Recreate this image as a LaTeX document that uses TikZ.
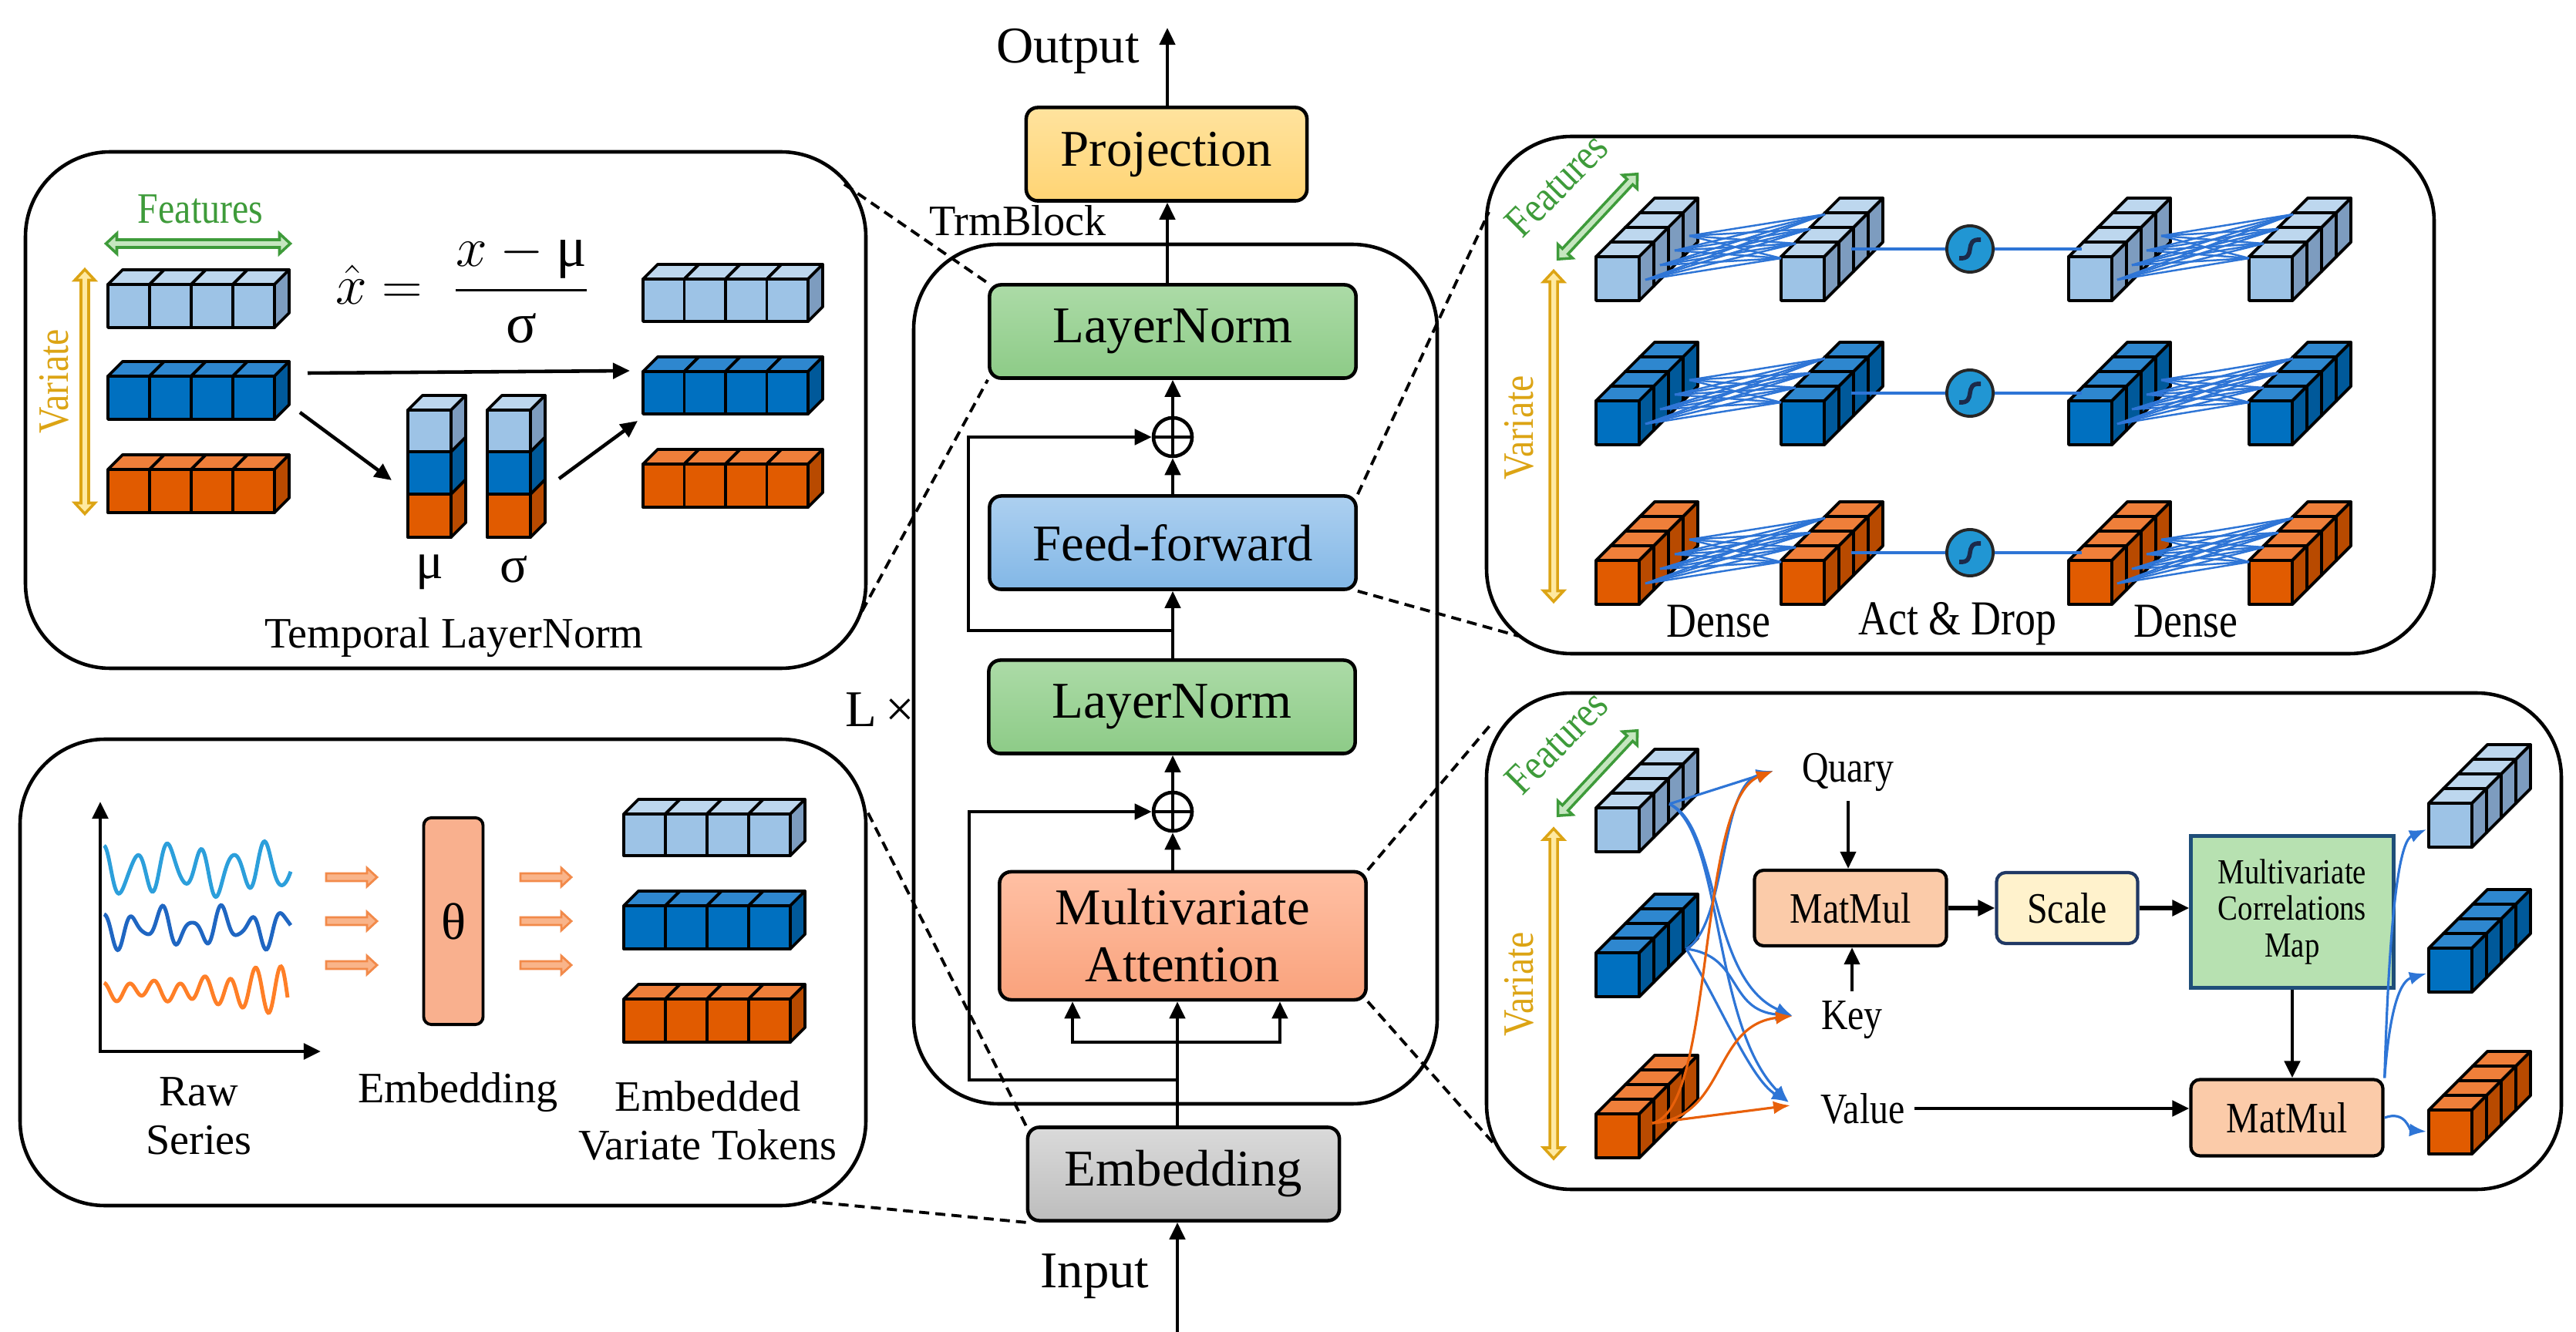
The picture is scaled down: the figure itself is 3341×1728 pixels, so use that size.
\documentclass[tikz,border=0pt]{standalone}
\usepackage{fontspec}
\setmainfont{Liberation Serif}
\newfontfamily\condfont[FakeStretch=0.85]{Liberation Serif}
\usepackage{amsmath}
\usetikzlibrary{arrows.meta,calc}

\definecolor{lbF}{HTML}{9DC3E6}
\definecolor{lbT}{HTML}{BDD7EE}
\definecolor{lbS}{HTML}{7D9CBF}
\definecolor{dbF}{HTML}{0070C0}
\definecolor{dbT}{HTML}{2E87CF}
\definecolor{dbS}{HTML}{00599A}
\definecolor{orF}{HTML}{E15B00}
\definecolor{orT}{HTML}{EF7F3A}
\definecolor{orS}{HTML}{B84A00}
\definecolor{lnTop}{HTML}{ACDBA7}
\definecolor{lnBot}{HTML}{8DCB87}
\definecolor{ffTop}{HTML}{ADD0F0}
\definecolor{ffBot}{HTML}{82B7E6}
\definecolor{projTop}{HTML}{FFE39E}
\definecolor{projBot}{HTML}{FFD474}
\definecolor{attnTop}{HTML}{FFC0A4}
\definecolor{attnBot}{HTML}{F9A27C}
\definecolor{embTop}{HTML}{DADADA}
\definecolor{embBot}{HTML}{BDBDBD}
\definecolor{featGreen}{HTML}{3E9B3A}
\definecolor{featFill}{HTML}{C5E6BF}
\definecolor{varGold}{HTML}{DCA414}
\definecolor{varFill}{HTML}{FFE9A0}
\definecolor{emArrow}{HTML}{F28A4A}
\definecolor{emArrowFill}{HTML}{F9B48A}
\definecolor{thetaFill}{HTML}{F9B08E}
\definecolor{waveA}{HTML}{2C9FDB}
\definecolor{waveB}{HTML}{1F66C2}
\definecolor{waveC}{HTML}{FF7F27}
\definecolor{denseBlue}{HTML}{2E75D6}
\definecolor{actBlue}{HTML}{2196D3}
\definecolor{sigNavy}{HTML}{1B2A4A}
\definecolor{curveOrange}{HTML}{E8600A}
\definecolor{mmFill}{HTML}{FBCBA9}
\definecolor{scaleFill}{HTML}{FFF2CC}
\definecolor{scaleEdge}{HTML}{203864}
\definecolor{mcmFill}{HTML}{B7E1B1}
\definecolor{mcmEdge}{HTML}{1F4E79}

\tikzset{cubeline/.style={draw=black, line width=1.1pt, line join=round}}

% one cube: front top-left x, y, width, height, colour set
\newcommand{\onecube}[5]{%
  \filldraw[cubeline, fill=#5T] (#1,#2) -- ++(19,-19) -- ++(#3,0) -- ++(-19,19) -- cycle;
  \filldraw[cubeline, fill=#5S] (#1+#3,#2) -- ++(19,-19) -- ++(0,#4) -- ++(-19,19) -- cycle;
  \filldraw[cubeline, fill=#5F] (#1,#2) rectangle ++(#3,#4);
}
% four cubes side by side
\newcommand{\tokrow}[5]{\foreach \i in {0,...,3}{\onecube{#1+\i*#3}{#2}{#3}{#4}{#5}}}
% four cubes one behind the other
\newcommand{\tokstack}[3]{\foreach \k in {3,2,1,0}{\onecube{#1+19*\k}{#2-19*\k}{56}{57}{#3}}}
% all-to-all links between two stacks
\newcommand{\denselinks}[3]{\foreach \p in {0,...,3}{\foreach \q in {0,...,3}{%
  \draw[denseline] (#1+7+19*\p,#3+30-19*\p) -- (#2+19*\q,#3+2-19*\q);}}}
% hollow double arrow: centre x, centre y, length, angle, colours
\newcommand{\hollowdbl}[6]{%
  \begin{scope}[shift={(#1,#2)}, rotate=#4]
    \filldraw[draw=#5, fill=#6, line width=1pt] (-#3/2,0) -- (-#3/2+14,-13) -- (-#3/2+14,-5)
      -- (#3/2-14,-5) -- (#3/2-14,-13) -- (#3/2,0) -- (#3/2-14,13) -- (#3/2-14,5)
      -- (-#3/2+14,5) -- (-#3/2+14,13) -- cycle;
  \end{scope}}
% hollow single arrow pointing right
\newcommand{\hollowarr}[3]{%
  \filldraw[draw=emArrow, fill=emArrowFill, line width=0.8pt] (#1-#3/2,#2-5) -- (#1+#3/2-13,#2-5)
    -- (#1+#3/2-13,#2-12) -- (#1+#3/2,#2) -- (#1+#3/2-13,#2+12) -- (#1+#3/2-13,#2+5)
    -- (#1-#3/2,#2+5) -- cycle;}

\begin{document}
\begin{tikzpicture}[x=0.01cm, y=-0.01cm,
    blockbox/.style={draw, line width=1.3pt, rounded corners=0.15cm, minimum width=4.75cm, minimum height=1.21cm, inner sep=0pt, align=center, font=\fontsize{19}{21}\selectfont},
    addop/.style={circle, draw, line width=1.3pt, minimum size=0.5cm, inner sep=0pt,
      path picture={\draw[line width=1.1pt] (path picture bounding box.north) -- (path picture bounding box.south) (path picture bounding box.west) -- (path picture bounding box.east);}},
    arr/.style={line width=1.3pt, -{Triangle[length=0.22cm,width=0.2cm]}},
    link/.style={line width=1.1pt, dash pattern=on 0.13cm off 0.08cm},
    panel/.style={line width=1.3pt, rounded corners=1.1cm},
    bigtxt/.style={font=\fontsize{19}{21}\selectfont},
    lbl/.style={font=\fontsize{16}{18}\selectfont, align=center},
    condlbl/.style={font={\condfont\fontsize{18}{20}\selectfont}, align=center},
    feattxt/.style={font={\condfont\fontsize{16}{18}\selectfont}, text=featGreen},
    vartxt/.style={font={\condfont\fontsize{16}{18}\selectfont}, text=varGold, rotate=90},
    smallbox/.style={draw, line width=1.2pt, rounded corners=0.12cm, inner sep=0pt, align=center, font={\condfont\fontsize{16}{18}\selectfont}},
    denseline/.style={draw=denseBlue, line width=0.7pt},
    actnode/.style={circle, draw=black!85, fill=actBlue, line width=1.1pt, minimum size=0.6cm, inner sep=0pt,
      path picture={\draw[line width=1.6pt, draw=sigNavy] ([xshift=-0.14cm,yshift=-0.12cm]path picture bounding box.center)
        .. controls ([xshift=0.1cm,yshift=-0.14cm]path picture bounding box.center) and ([xshift=-0.1cm,yshift=0.14cm]path picture bounding box.center)
        .. ([xshift=0.14cm,yshift=0.12cm]path picture bounding box.center);}},
    bluecurve/.style={draw=denseBlue, line width=0.9pt, -{Latex[length=0.22cm,width=0.17cm]}},
    orangecurve/.style={draw=curveOrange, line width=0.9pt, -{Latex[length=0.22cm,width=0.17cm]}},
    wave/.style={line width=1.4pt}
]
\fill[white] (0,0) rectangle (3341,1728);
\useasboundingbox (0,0) rectangle (3341,1728);

% ---------------- centre column ----------------
\draw[panel] (1185,317) rectangle (1864,1432);
\node[lbl] (trmlbl) at (1320,286) {TrmBlock};
\node[bigtxt] (lx) at (1141,921) {L\,×};

\node[blockbox, top color=projTop, bottom color=projBot, minimum width=3.64cm] (proj) at (1513,200) {Projection};
\node[bigtxt] (out) at (1385,67) {Output};
\node[blockbox, top color=lnTop, bottom color=lnBot] (ln2) at (1521,430) {LayerNorm};
\node[addop] (add2) at (1521,567) {};
\node[blockbox, top color=ffTop, bottom color=ffBot] (ff) at (1521,704) {Feed-forward};
\node[blockbox, top color=lnTop, bottom color=lnBot] (ln1) at (1520,917) {LayerNorm};
\node[addop] (add1) at (1521,1053) {};
\node[blockbox, top color=attnTop, bottom color=attnBot, minimum height=1.66cm] (attn) at (1534,1214) {Multivariate\\Attention};
\node[blockbox, top color=embTop, bottom color=embBot, minimum width=4.04cm] (emb) at (1535,1523) {Embedding};
\node[bigtxt] (inp) at (1420,1656) {Input};

\coordinate (outtop) at (1514,36);
\coordinate (sk2) at (1256,818);
\coordinate (sk1) at (1257,1401);
\coordinate (spine) at (1527,1401);
\coordinate (qbr) at (1391,1352);
\coordinate (vbr) at (1660,1352);
\coordinate (inbot) at (1527,1728);

\draw[arr] (proj.north -| outtop) -- (outtop);
\draw[arr] (ln2.north -| outtop) -- (proj.south -| outtop);
\draw[arr] (add2.north) -- (add2.north |- ln2.south);
\draw[arr] (ff.north -| add2) -- (add2.south);
\draw[arr] (ff.south |- sk2) -- (sk2) |- (add2.west);
\draw[arr] (ln1.north -| ff.south) -- (ff.south);
\draw[arr] (add1.north) -- (add1.north |- ln1.south);
\draw[arr] (attn.north -| add1) -- (add1.south);
\draw[arr] (spine) -- (sk1) |- (add1.west);
\draw[arr] (emb.north -| spine) -- (attn.south -| spine);
\draw[arr] (qbr -| spine) -- (qbr) -- (qbr |- attn.south);
\draw[arr] (qbr -| spine) -- (vbr) -- (vbr |- attn.south);
\draw[arr] (inbot) -- (emb.south -| inbot);

% zoom links
\coordinate (tlA) at (1095,239);
\coordinate (tlB) at (1118,793);
\coordinate (trA) at (1931,275);
\coordinate (trB) at (1969,825);
\coordinate (brA) at (1936,937);
\coordinate (brB) at (1936,1482);
\coordinate (blA) at (1123,1049);
\coordinate (blB) at (1053,1559);
\draw[link] (tlA) -- (ln2.north west);
\draw[link] (tlB) -- (ln2.south west);
\draw[link] (ff.north east) -- (trA);
\draw[link] (ff.south east) -- (trB);
\draw[link] (attn.north east) -- (brA);
\draw[link] (attn.south east) -- (brB);
\draw[link] (emb.north west) -- (blA);
\draw[link] (emb.south west) -- (blB);

% ---------------- temporal layernorm ----------------
\draw[panel] (33,197) rectangle (1123,867);
\node[feattxt] (tlfeat) at (260,271) {Features};
\hollowdbl{257}{316}{239}{0}{featGreen}{featFill}
\node[vartxt] (tlvar) at (70,495) {Variate};
\hollowdbl{110}{508}{317}{90}{varGold}{varFill}
\tokrow{140}{369}{54}{56}{lb}
\tokrow{140}{488}{54}{56}{db}
\tokrow{140}{609}{54}{56}{or}
\tokrow{834}{362}{53.5}{55}{lb}
\tokrow{834}{482}{53.5}{55}{db}
\tokrow{834}{602}{53.5}{56}{or}
\onecube{529}{641}{56}{56}{or}
\onecube{529}{586}{56}{55}{db}
\onecube{529}{532}{56}{54}{lb}
\onecube{632}{641}{56}{56}{or}
\onecube{632}{586}{56}{55}{db}
\onecube{632}{532}{56}{54}{lb}
\node[font=\fontsize{21}{23}\selectfont] (formula) at (600,374) {$\hat{x} = \ \dfrac{x-\text{μ}}{\text{σ}}$};
\node[bigtxt] (mu) at (557,742) {μ};
\node[bigtxt] (sigma) at (667,739) {σ};
\draw[arr] (399,484) -- (817,481);
\draw[arr] (389,535) -- (508,623);
\draw[arr] (725,621) -- (827,546);
\node[lbl] (tlname) at (589,827) {Temporal LayerNorm};

% ---------------- embedding ----------------
\draw[panel] (26,959) rectangle (1123,1564);
\draw[line width=1.4pt, {Triangle[length=0.22cm,width=0.2cm]}-{Triangle[length=0.22cm,width=0.2cm]}] (130,1040) -- (130,1364) -- (416,1364);
\draw[wave, draw=waveA] plot[domain=0:242, samples=180, smooth] ({135+\x},{1128-26*cos(8.6*\x)+7*sin(3.1*\x)-5*cos(14*\x)});
\draw[wave, draw=waveB] plot[domain=0:242, samples=180, smooth] ({135+\x},{1203-18*cos(9.3*\x+20)+7*sin(4*\x)-5*sin(15*\x)});
\draw[wave, draw=waveC] plot[domain=0:238, samples=200, smooth] ({135+\x},{1285-(10+28*(\x/238)^3)*cos(11*\x)+4*sin(5*\x)});
\hollowarr{456}{1138}{66}
\hollowarr{456}{1195}{66}
\hollowarr{456}{1252}{66}
\hollowarr{708}{1138}{66}
\hollowarr{708}{1195}{66}
\hollowarr{708}{1252}{66}
\node[draw, line width=1.1pt, fill=thetaFill, rounded corners=0.1cm, minimum width=0.77cm, minimum height=2.68cm, inner sep=0pt, font=\fontsize{19}{21}\selectfont] (theta) at (588,1195) {θ};
\tokrow{809}{1056}{54}{54}{lb}
\tokrow{809}{1175}{54}{56}{db}
\tokrow{809}{1296}{54}{56}{or}
\node[lbl] (raw) at (258,1448) {Raw\\Series};
\node[lbl] (embname) at (594,1417) {Embedding};
\node[lbl] (tokname) at (918,1454) {Embedded\\Variate Tokens};

% ---------------- feed-forward ----------------
\draw[panel] (1928,177) rectangle (3157,848);
\node[feattxt, rotate=45] (frfeat) at (2019,240) {Features};
\hollowdbl{2072}{281}{151}{47}{featGreen}{featFill}
\node[vartxt] (frvar) at (1970,555) {Variate};
\hollowdbl{2015}{566}{429}{90}{varGold}{varFill}
\tokstack{2070}{333}{lb}
\tokstack{2310}{333}{lb}
\tokstack{2683}{333}{lb}
\tokstack{2917}{333}{lb}
\tokstack{2070}{520}{db}
\tokstack{2310}{520}{db}
\tokstack{2683}{520}{db}
\tokstack{2917}{520}{db}
\tokstack{2070}{727}{or}
\tokstack{2310}{727}{or}
\tokstack{2683}{727}{or}
\tokstack{2917}{727}{or}
\denselinks{2127}{2310}{333}
\denselinks{2739}{2917}{333}
\denselinks{2127}{2310}{520}
\denselinks{2739}{2917}{520}
\denselinks{2127}{2310}{727}
\denselinks{2739}{2917}{727}
\node[actnode] (act1) at (2555,323) {};
\node[actnode] (act2) at (2555,510) {};
\node[actnode] (act3) at (2555,717) {};
\draw[denseline, line width=1pt] (2401,323) -- (act1.west);
\draw[denseline, line width=1pt] (act1.east) -- (2700,323);
\draw[denseline, line width=1pt] (2401,510) -- (act2.west);
\draw[denseline, line width=1pt] (act2.east) -- (2700,510);
\draw[denseline, line width=1pt] (2401,717) -- (act3.west);
\draw[denseline, line width=1pt] (act3.east) -- (2700,717);
\node[condlbl] (dense1) at (2229,806) {Dense};
\node[condlbl] (actdrop) at (2539,809) {Act \& Drop};
\node[condlbl] (dense2) at (2835,806) {Dense};

% ---------------- multivariate attention ----------------
\draw[panel] (1928,899) rectangle (3322,1543);
\node[feattxt, rotate=45] (brfeat) at (2019,963) {Features};
\hollowdbl{2072}{1003}{151}{47}{featGreen}{featFill}
\node[vartxt] (brvar) at (1970,1277) {Variate};
\hollowdbl{2015}{1289}{428}{90}{varGold}{varFill}
\tokstack{2070}{1048}{lb}
\tokstack{2070}{1236}{db}
\tokstack{2070}{1445}{or}
\tokstack{3150}{1042}{lb}
\tokstack{3150}{1230}{db}
\tokstack{3150}{1440}{or}

\node[condlbl, font={\condfont\fontsize{16}{18}\selectfont}] (quary) at (2397,1002) {Quary};
\node[condlbl, font={\condfont\fontsize{16}{18}\selectfont}] (key) at (2402,1323) {Key};
\node[condlbl, font={\condfont\fontsize{16}{18}\selectfont}] (value) at (2416,1438) {Value};
\node[smallbox, fill=mmFill, minimum width=2.49cm, minimum height=0.98cm] (mm1) at (2400,1178) {MatMul};
\node[smallbox, fill=scaleFill, draw=scaleEdge, minimum width=1.83cm, minimum height=0.92cm] (scale) at (2681,1178) {Scale};
\node[draw=mcmEdge, fill=mcmFill, line width=1.2pt, minimum width=2.63cm, minimum height=1.97cm, inner sep=0pt, align=center, font={\condfont\fontsize{13}{13.5}\selectfont}] (mcm) at (2973,1183) {Multivariate\\Correlations\\Map};
\node[smallbox, fill=mmFill, minimum width=2.49cm, minimum height=0.99cm] (mm2) at (2966,1450) {MatMul};

\draw[arr, line width=1.2pt] (quary.south) -- (quary.south |- mm1.north);
\draw[arr, line width=1.2pt] (key.north) -- (key.north |- mm1.south);
\draw[arr, line width=1.8pt] (mm1.east) -- (mm1.east -| scale.west);
\draw[arr, line width=1.8pt] (scale.east) -- (scale.east -| mcm.west);
\draw[arr, line width=1.4pt] (mcm.south) -- (mcm.south |- mm2.north);
\draw[arr, line width=1.4pt] (value.east) -- (value.east -| mm2.west);

% token routing
\draw[bluecurve] (2165,1043) -- (2300,1000);
\draw[bluecurve] (2165,1043) .. controls (2230,1070) and (2215,1270) .. (2325,1318);
\draw[bluecurve] (2165,1043) .. controls (2235,1080) and (2220,1330) .. (2320,1430);
\draw[bluecurve] (2187,1231) .. controls (2240,1200) and (2230,1020) .. (2300,1000);
\draw[bluecurve] (2187,1231) .. controls (2260,1240) and (2240,1310) .. (2325,1318);
\draw[bluecurve] (2187,1231) .. controls (2230,1300) and (2270,1400) .. (2320,1430);
\draw[orangecurve] (2143,1457) .. controls (2225,1440) and (2200,1040) .. (2300,1000);
\draw[orangecurve] (2143,1457) .. controls (2240,1450) and (2220,1330) .. (2325,1318);
\draw[orangecurve] (2143,1457) -- (2322,1434);
\draw[bluecurve] (mm2.north east) .. controls (3100,1150) and (3115,1090) .. (3147,1076);
\draw[bluecurve] (mm2.north east) .. controls (3100,1300) and (3115,1272) .. (3147,1263);
\draw[bluecurve] (mm2.east) .. controls (3120,1440) and (3125,1466) .. (3147,1468);
\end{tikzpicture}
\end{document}
